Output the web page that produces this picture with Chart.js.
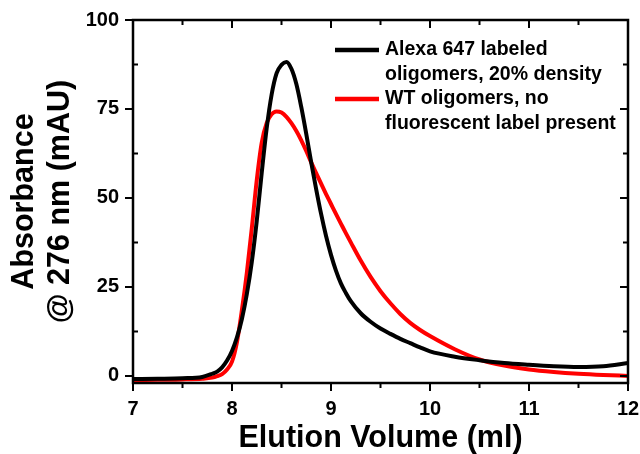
<!DOCTYPE html>
<html>
<head>
<meta charset="utf-8">
<script src="https://cdn.jsdelivr.net/npm/chart.js@4.4.1/dist/chart.umd.min.js"></script>
<style>
  html, body { margin: 0; padding: 0; background: #fff; }
  #wrap { width: 640px; height: 454px; }
</style>
</head>
<body>
<div id="wrap"><canvas id="canvas-1" width="640" height="454"></canvas></div>
<script>
'use strict';

// elution volume (ml)
var volume = [7, 7.25, 7.5, 7.7,
  7.8, 7.85, 7.9, 7.95, 8.0, 8.05, 8.1, 8.15, 8.2, 8.25,
  8.3, 8.35, 8.4, 8.45, 8.5, 8.55, 8.6, 8.65, 8.7, 8.75,
  8.8, 8.85, 8.9, 8.95, 9.0, 9.05, 9.1, 9.15, 9.2,
  9.3, 9.4, 9.5, 9.6, 9.7, 9.8, 9.9, 10.0,
  10.25, 10.5, 10.75, 11, 11.25, 11.5, 11.75, 12];

// Alexa 647 labeled, absorbance (mAU)
var alexa = [-0.9, -0.8, -0.65, -0.3,
  0.6, 1.2, 2.4, 4.3, 7.0, 10.8, 16, 23, 32, 43.5,
  57, 69.5, 79, 85, 87.4, 88.2, 86.3, 82, 75.5, 68,
  60, 52.5, 45.5, 39.3, 34, 29.6, 26, 23.3, 21,
  17.6, 15.2, 13.3, 11.8, 10.4, 9.2, 8.0, 6.9,
  5.4, 4.4, 3.6, 3.1, 2.7, 2.5, 2.7, 3.6];

// WT oligomers, no label
var wt = [-1.2, -1.1, -1.0, -0.8,
  -0.5, -0.1, 0.5, 1.8, 4, 9.5, 18.5, 29, 41.5, 55,
  65.5, 71, 73.5, 74.3, 74, 72.8, 71, 68.8, 66.2, 63.2,
  60, 57, 54, 51.1, 48.3, 45.5, 42.8, 40.1, 37.5,
  32.4, 27.8, 23.8, 20.4, 17.4, 14.9, 12.9, 11.2,
  7.5, 4.6, 2.9, 1.8, 1.1, 0.6, 0.25, 0];

var legendLabels = [
  ['Alexa 647 labeled', 'oligomers, 20% density'],
  ['WT oligomers, no', 'fluorescent label present']
];

var xTicks = [7, 8, 9, 10, 11, 12];
var yTicks = [0, 25, 50, 75, 100];

function pts(ys) {
  var out = [];
  for (var i = 0; i < volume.length; i++) out.push({x: volume[i], y: ys[i]});
  return out;
}

var FONT = '"Liberation Sans", Arial, sans-serif';

// frame with ticks like the original (major/minor, inside on top/right)
var framePlugin = {
  id: 'frame',
  afterDraw: function (chart) {
    var ctx = chart.ctx;
    var a = chart.chartArea;
    var sx = chart.scales.x, sy = chart.scales.y;
    ctx.save();
    ctx.strokeStyle = '#000';
    ctx.lineWidth = 2.5;
    ctx.strokeRect(a.left, a.top, a.right - a.left, a.bottom - a.top);
    ctx.lineWidth = 2;
    ctx.beginPath();
    for (var v = 7; v <= 12.001; v += 0.5) {
      var px = sx.getPixelForValue(v);
      var major = Math.abs(v - Math.round(v)) < 0.01;
      var len = major ? 8 : 5;
      ctx.moveTo(px, a.bottom); ctx.lineTo(px, a.bottom + len);
      ctx.moveTo(px, a.top); ctx.lineTo(px, a.top + len);
    }
    for (var w = 0; w <= 100.001; w += 12.5) {
      var py = sy.getPixelForValue(w);
      var maj = Math.abs(w % 25) < 0.01;
      var l2 = maj ? 8 : 5;
      if (maj) { ctx.moveTo(a.left, py); ctx.lineTo(a.left - l2, py); }
      else { ctx.moveTo(a.left, py); ctx.lineTo(a.left + l2, py); }
      ctx.moveTo(a.right, py); ctx.lineTo(a.right - l2, py);
    }
    ctx.stroke();

    // legend
    var lx = 335, tx = 385;
    var rows = [50, 99];
    ctx.font = 'bold 19.5px ' + FONT;
    ctx.textBaseline = 'middle';
    ctx.fillStyle = '#000';
    chart.data.datasets.forEach(function (ds, i) {
      ctx.strokeStyle = ds.borderColor;
      ctx.lineWidth = 4.5;
      ctx.beginPath();
      ctx.moveTo(lx, rows[i]); ctx.lineTo(lx + 44, rows[i]);
      ctx.stroke();
      legendLabels[i].forEach(function (t, k) {
        ctx.fillText(t, tx, rows[i] + k * 25);
      });
    });
    ctx.restore();
  }
};

var ctx = document.getElementById('canvas-1');
var chart = new Chart(ctx, {
  type: 'scatter',
  data: {
    datasets: [
      {
        label: legendLabels[0].join(' '),
        data: pts(alexa),
        borderColor: '#000000',
        backgroundColor: '#000000',
        borderWidth: 4,
        showLine: true,
        pointRadius: 0,
        cubicInterpolationMode: 'monotone'
      },
      {
        label: legendLabels[1].join(' '),
        data: pts(wt),
        borderColor: '#ff0000',
        backgroundColor: '#ff0000',
        borderWidth: 4,
        showLine: true,
        pointRadius: 0,
        cubicInterpolationMode: 'monotone'
      }
    ]
  },
  options: {
    responsive: false,
    animation: false,
    layout: { padding: { left: 0, right: 12, top: 20, bottom: 0 } },
    plugins: {
      legend: { display: false },
      tooltip: { enabled: false }
    },
    scales: {
      x: {
        type: 'linear',
        min: 7,
        max: 12,
        grid: { display: false },
        border: { display: false },
        afterBuildTicks: function (s) { s.ticks = xTicks.map(function (v) { return {value: v}; }); },
        afterFit: function (s) { s.height = 71; s.paddingLeft = 0; s.paddingRight = 0; },
        ticks: {
          color: '#000',
          padding: 6,
          maxRotation: 0,
          font: { family: FONT, size: 20, weight: 'bold' }
        },
        title: {
          display: true,
          text: 'Elution Volume (ml)',
          color: '#000',
          padding: { top: 0, bottom: 0 },
          font: { family: FONT, size: 30.5, weight: 'bold', lineHeight: 1.0 }
        }
      },
      y: {
        type: 'linear',
        min: -2,
        max: 100,
        grid: { display: false },
        border: { display: false },
        afterBuildTicks: function (s) { s.ticks = yTicks.map(function (v) { return {value: v}; }); },
        afterFit: function (s) { s.width = 133; s.paddingTop = 0; s.paddingBottom = 0; },
        ticks: {
          color: '#000',
          padding: 6,
          font: { family: FONT, size: 20, weight: 'bold' }
        },
        title: {
          display: true,
          text: ['Absorbance', '@ 276 nm (mAU)'],
          color: '#000',
          padding: { top: 6, bottom: 0 },
          font: { family: FONT, size: 30.5, weight: 'bold', lineHeight: 1.2 }
        }
      }
    }
  },
  plugins: [framePlugin]
});
</script>
</body>
</html>
